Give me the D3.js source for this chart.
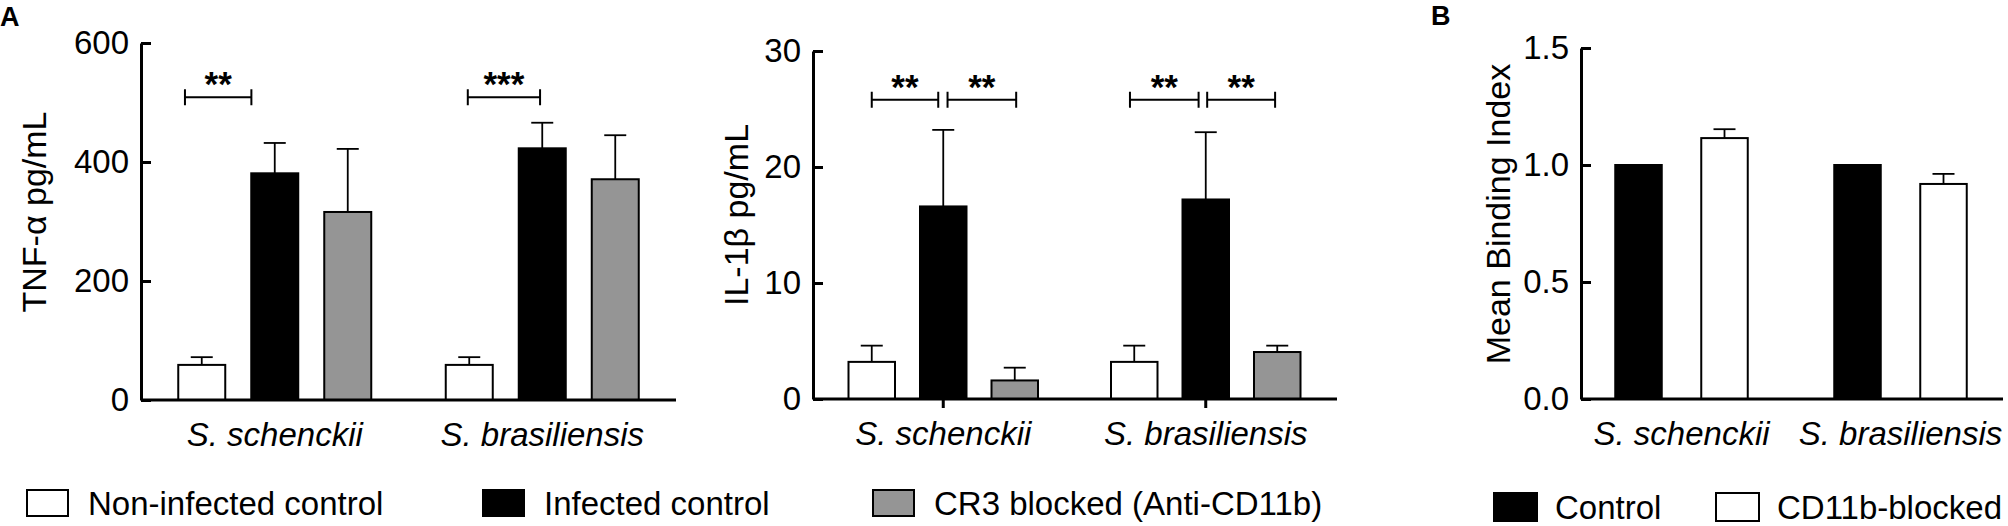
<!DOCTYPE html>
<html>
<head>
<meta charset="utf-8">
<script src="https://cdn.jsdelivr.net/npm/d3@7"></script>
<style>
  body { margin: 0; background: #fff; }
  text { font-family: "Liberation Sans", Arial, Helvetica, sans-serif; fill: #000; }
  .tick text { font-size: 33px; }
  .xlab { font-size: 34px; font-style: italic; }
  .ytitle { font-size: 34px; }
  .stars { font-size: 35px; font-weight: bold; }
  .panel { font-size: 27px; font-weight: bold; }
  .leg { font-size: 33px; }
</style>
</head>
<body>
<div id="chart"></div>
<script>
// Data ---------- ---------- ----------
let groups = ["S. schenckii", "S. brasiliensis"];
let seriesA = ["Non-infected control", "Infected control", "CR3 blocked (Anti-CD11b)"];
let seriesB = ["Control", "CD11b-blocked"];
let fillsA = ["#ffffff", "#000000", "#959595"];
let fillsB = ["#000000", "#ffffff"];

// [group][series]
let tnfMean = [[59, 381, 316], [59, 423, 371]];
let tnfSem  = [[13, 51, 106], [13, 43, 74]];
let il1Mean = [[3.2, 16.6, 1.6], [3.2, 17.2, 4.05]];
let il1Sem  = [[1.4, 6.6, 1.1], [1.4, 5.8, 0.55]];
let mbiMean = [[1.0, 1.115], [1.0, 0.919]];
let mbiSem  = [[0, 0.038], [0, 0.043]];

let tnfTicks = [0, 200, 400, 600];
let il1Ticks = [0, 10, 20, 30];
let mbiTicks = [0, 0.5, 1.0, 1.5];

// significance brackets: from/to are bar positions inside the group (0 = first bar)
let tnfSig = [
  {g: 0, from: -0.23, to: 0.68, y: 509, label: "**"},
  {g: 1, from: -0.02, to: 0.97, y: 509, label: "***"}
];
let il1Sig = [
  {g: 0, from: 0.0, to: 0.93, y: 25.8, label: "**"},
  {g: 0, from: 1.06, to: 2.02, y: 25.8, label: "**"},
  {g: 1, from: -0.06, to: 0.9, y: 25.8, label: "**"},
  {g: 1, from: 1.02, to: 1.97, y: 25.8, label: "**"}
];

// Canvas ---------- ---------- ----------
let canvasW = 2008, canvasH = 526;
let svg = d3.select("#chart").append("svg").attr("width", canvasW).attr("height", canvasH);
svg.append("rect").attr("width", canvasW).attr("height", canvasH).attr("fill", "#fff");

// Panel ---------- ---------- ----------
function panel(o)
{
    let g = svg.append("g");
    let y = d3.scaleLinear().domain(o.yDomain).range([o.base, o.top]);
    let x0 = d3.scaleBand().domain(groups).range(o.xRange);
    let n = o.series.length;
    let pad = 1 - o.barW / o.step;
    let x1 = d3.scaleBand().domain(d3.range(n)).range([-n * o.step / 2, n * o.step / 2])
        .paddingInner(pad).paddingOuter(pad / 2);
    let center = gi => x0(groups[gi]) + x0.bandwidth() / 2;
    let posAt = (gi, f) => center(gi) + (f - (n - 1) / 2) * o.step;

    let rows = [];
    groups.forEach((grp, gi) => o.series.forEach((s, si) =>
        rows.push({gi: gi, si: si, m: o.mean[gi][si], e: o.sem[gi][si]})));

    // error bars (upper only)
    let eb = g.selectAll(".eb").data(rows.filter(d => d.e > 0)).enter().append("g");
    eb.append("line")
        .attr("x1", d => center(d.gi) + x1(d.si) + x1.bandwidth() / 2)
        .attr("x2", d => center(d.gi) + x1(d.si) + x1.bandwidth() / 2)
        .attr("y1", d => y(d.m)).attr("y2", d => y(d.m + d.e))
        .attr("stroke", "#000").attr("stroke-width", 1.8);
    eb.append("line")
        .attr("x1", d => center(d.gi) + x1(d.si) + x1.bandwidth() / 2 - 11)
        .attr("x2", d => center(d.gi) + x1(d.si) + x1.bandwidth() / 2 + 11)
        .attr("y1", d => y(d.m + d.e)).attr("y2", d => y(d.m + d.e))
        .attr("stroke", "#000").attr("stroke-width", 1.8);

    // bars
    g.selectAll(".bar").data(rows).enter().append("rect")
        .attr("x", d => center(d.gi) + x1(d.si))
        .attr("y", d => y(d.m))
        .attr("width", x1.bandwidth())
        .attr("height", d => y(0) - y(d.m))
        .attr("fill", d => o.fills[d.si])
        .attr("stroke", "#000").attr("stroke-width", 2);

    // y axis (inward ticks)
    let ya = g.append("g").attr("transform", "translate(" + o.axisX + ",0)")
        .call(d3.axisLeft(y).tickValues(o.ticks).tickFormat(o.fmt)
            .tickSizeInner(-10).tickSizeOuter(0).tickPadding(12));
    ya.select(".domain").attr("stroke-width", 3);
    ya.selectAll(".tick line").attr("stroke-width", 3);
    ya.selectAll(".tick text").attr("font-family", null).attr("font-size", null);

    // x axis
    let xa = g.append("g").attr("transform", "translate(0," + o.base + ")")
        .call(d3.axisBottom(x0).tickSizeInner(o.xTick).tickSizeOuter(0).tickPadding(o.xTick ? 14 : 23));
    xa.select(".domain").attr("d", "M" + o.axisX + ",0H" + o.xEnd).attr("stroke-width", 3);
    xa.selectAll(".tick line").attr("stroke-width", 3);
    xa.selectAll(".tick text").attr("class", "xlab").attr("font-family", null).attr("font-size", null);

    // y title
    g.append("text").attr("class", "ytitle").attr("text-anchor", "middle")
        .attr("transform", "translate(" + o.titleX + "," + o.titleY + ") rotate(-90)")
        .text(o.title);

    // significance
    let sg = g.selectAll(".sig").data(o.sig || []).enter().append("g");
    sg.append("path")
        .attr("d", d => {
            let a = posAt(d.g, d.from), b = posAt(d.g, d.to), yy = y(d.y);
            return "M" + a + "," + (yy - 8) + "V" + (yy + 8) + "M" + a + "," + yy + "H" + b
                + "M" + b + "," + (yy - 8) + "V" + (yy + 8);
        })
        .attr("fill", "none").attr("stroke", "#000").attr("stroke-width", 2);
    sg.append("text").attr("class", "stars").attr("text-anchor", "middle")
        .attr("x", d => (posAt(d.g, d.from) + posAt(d.g, d.to)) / 2)
        .attr("y", d => y(d.y) - 1)
        .text(d => d.label);
}

panel({series: seriesA, fills: fillsA, mean: tnfMean, sem: tnfSem, ticks: tnfTicks,
       fmt: d3.format("d"), yDomain: [0, 600], base: 400, top: 43,
       xRange: [141, 676], axisX: 141, xEnd: 676, step: 73, barW: 47, xTick: 0,
       title: "TNF-\u03b1 pg/mL", titleX: 46, titleY: 212, sig: tnfSig});

panel({series: seriesA, fills: fillsA, mean: il1Mean, sem: il1Sem, ticks: il1Ticks,
       fmt: d3.format("d"), yDomain: [0, 30], base: 399, top: 51,
       xRange: [812, 1337], axisX: 813, xEnd: 1337, step: 71.5, barW: 46.5, xTick: 9,
       title: "IL-1\u03b2 pg/mL", titleX: 748, titleY: 215, sig: il1Sig});

panel({series: seriesB, fills: fillsB, mean: mbiMean, sem: mbiSem, ticks: mbiTicks,
       fmt: d3.format(".1f"), yDomain: [0, 1.5], base: 399, top: 48,
       xRange: [1572, 2010], axisX: 1581, xEnd: 2003, step: 86, barW: 46.5, xTick: 0,
       title: "Mean Binding Index", titleX: 1510, titleY: 214, sig: []});

// Panel letters ---------- ---------- ----------
svg.append("text").attr("class", "panel").attr("x", 0).attr("y", 26).text("A");
svg.append("text").attr("class", "panel").attr("x", 1431).attr("y", 25).text("B");

// Legends ---------- ---------- ----------
let legA = [27, 483, 873];
seriesA.forEach((s, i) => {
    svg.append("rect").attr("x", legA[i]).attr("y", 490).attr("width", 41).attr("height", 26)
        .attr("fill", fillsA[i]).attr("stroke", "#000").attr("stroke-width", 2);
    svg.append("text").attr("class", "leg").attr("x", legA[i] + 61).attr("y", 515).text(s);
});
let legB = [1494, 1716];
seriesB.forEach((s, i) => {
    svg.append("rect").attr("x", legB[i]).attr("y", 493).attr("width", 43).attr("height", 28)
        .attr("fill", fillsB[i]).attr("stroke", "#000").attr("stroke-width", 2);
    svg.append("text").attr("class", "leg").attr("x", legB[i] + 61).attr("y", 519).text(s);
});
</script>
</body>
</html>
